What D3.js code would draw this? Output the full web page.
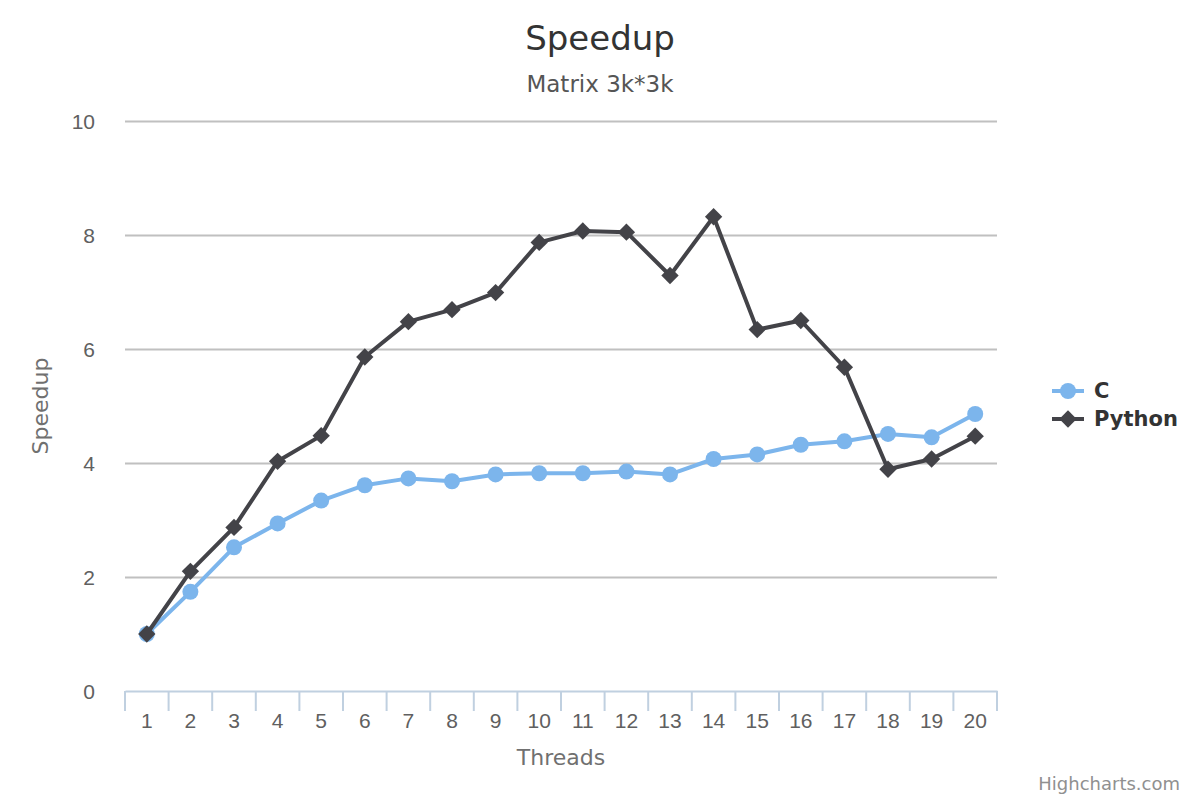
<!DOCTYPE html>
<html>
<head>
<meta charset="utf-8">
<script src="https://cdnjs.cloudflare.com/ajax/libs/d3/7.8.5/d3.min.js"></script>
<style>
  body { margin: 0; background: #fff; }
  svg { font-family: "DejaVu Sans", "Lucida Grande", Arial, sans-serif; }
</style>
</head>
<body>
<div id="chart"></div>
<script>
// Data
var threads = [1, 2, 3, 4, 5, 6, 7, 8, 9, 10, 11, 12, 13, 14, 15, 16, 17, 18, 19, 20];
var cSpeedup = [1.0, 1.74, 2.52, 2.94, 3.34, 3.61, 3.73, 3.68, 3.80, 3.82, 3.82, 3.85, 3.80, 4.07, 4.15, 4.32, 4.38, 4.51, 4.45, 4.86];
var pySpeedup = [1.0, 2.10, 2.87, 4.03, 4.48, 5.86, 6.48, 6.69, 6.99, 7.87, 8.07, 8.05, 7.29, 8.32, 6.34, 6.50, 5.68, 3.89, 4.07, 4.47];
var yTicks = [0, 2, 4, 6, 8, 10];

var seriesList = [
    { name: "C", values: cSpeedup, color: "#7cb5ec", marker: "circle" },
    { name: "Python", values: pySpeedup, color: "#434348", marker: "diamond" }
];

// Layout
var W = 1200, H = 800;
var margin = { top: 121, right: 203, bottom: 109, left: 125 };
var width = W - margin.left - margin.right;
var height = H - margin.top - margin.bottom;

var svg = d3.select("#chart").append("svg")
    .attr("width", W)
    .attr("height", H);

// Titles
svg.append("text")
    .attr("x", 600).attr("y", 50)
    .attr("text-anchor", "middle")
    .attr("font-size", "34px")
    .attr("fill", "#333333")
    .text("Speedup");

svg.append("text")
    .attr("x", 600).attr("y", 92)
    .attr("text-anchor", "middle")
    .attr("font-size", "23px")
    .attr("fill", "#555555")
    .text("Matrix 3k*3k");

var g = svg.append("g")
    .attr("transform", "translate(" + margin.left + "," + margin.top + ")");

// Scales
var x = d3.scaleBand()
    .domain(threads)
    .range([0, width])
    .padding(0);

var y = d3.scaleLinear()
    .domain([0, 10])
    .range([height, 0]);

function cx(d) { return x(d) + x.bandwidth() / 2; }

// Gridlines + y labels
var yAxis = g.append("g")
    .attr("class", "y axis")
    .call(d3.axisLeft(y).tickValues(yTicks).tickSize(-width).tickPadding(30));

yAxis.select(".domain").remove();
yAxis.selectAll(".tick line")
    .attr("stroke", "#c0c0c0")
    .attr("stroke-width", 2)
    .attr("opacity", function (d) { return d === 0 ? 0 : 1; });
yAxis.selectAll(".tick text")
    .attr("fill", "#606060")
    .attr("font-size", "21px")
    .attr("dy", "0.35em");

// X axis
var xAxis = g.append("g")
    .attr("class", "x axis")
    .attr("transform", "translate(0," + height + ")")
    .call(d3.axisBottom(x).tickSize(0).tickPadding(22));

xAxis.select(".domain")
    .attr("stroke", "#c0d0e0")
    .attr("stroke-width", 2);
xAxis.selectAll(".tick text")
    .attr("fill", "#606060")
    .attr("font-size", "21px");

// tick marks between categories
var tickPos = threads.map(function (d) { return x(d); }).concat([width]);
xAxis.selectAll(".bound")
    .data(tickPos)
    .enter().append("line")
    .attr("class", "bound")
    .attr("x1", function (d) { return d; })
    .attr("x2", function (d) { return d; })
    .attr("y1", 0)
    .attr("y2", 20)
    .attr("stroke", "#c0d0e0")
    .attr("stroke-width", 2);

// Axis titles
svg.append("text")
    .attr("x", margin.left + width / 2)
    .attr("y", 765)
    .attr("text-anchor", "middle")
    .attr("font-size", "22px")
    .attr("fill", "#707070")
    .text("Threads");

svg.append("text")
    .attr("transform", "translate(48," + (margin.top + height / 2) + ") rotate(-90)")
    .attr("text-anchor", "middle")
    .attr("font-size", "22px")
    .attr("fill", "#707070")
    .text("Speedup");

// Lines and markers
var line = d3.line()
    .x(function (d, i) { return cx(threads[i]); })
    .y(function (d) { return y(d); });

var diamond = d3.symbol().type(d3.symbolSquare).size(150);

function drawMarker(sel, s) {
    if (s.marker === "circle") {
        sel.append("circle")
            .attr("r", 8)
            .attr("fill", s.color);
    } else {
        sel.append("path")
            .attr("d", diamond)
            .attr("transform", "rotate(45)")
            .attr("fill", s.color);
    }
}

seriesList.forEach(function (s) {
    var sg = g.append("g").attr("class", "series");
    sg.append("path")
        .datum(s.values)
        .attr("fill", "none")
        .attr("stroke", s.color)
        .attr("stroke-width", 4)
        .attr("stroke-linejoin", "round")
        .attr("d", line);

    sg.selectAll(".pt")
        .data(s.values)
        .enter().append("g")
        .attr("class", "pt")
        .attr("transform", function (d, i) {
            return "translate(" + cx(threads[i]) + "," + y(d) + ")";
        })
        .each(function () { drawMarker(d3.select(this), s); });
});

// Legend
var legend = svg.append("g")
    .attr("transform", "translate(1052,391)");

seriesList.forEach(function (s, i) {
    var row = legend.append("g")
        .attr("transform", "translate(0," + i * 28 + ")");
    row.append("line")
        .attr("x1", 0).attr("x2", 32)
        .attr("stroke", s.color)
        .attr("stroke-width", 4);
    var m = row.append("g").attr("transform", "translate(16,0)");
    drawMarker(m, s);
    row.append("text")
        .attr("x", 42)
        .attr("y", 0)
        .attr("dy", "0.35em")
        .attr("font-size", "21px")
        .attr("font-weight", "bold")
        .attr("fill", "#333333")
        .text(s.name);
});

// Credit
svg.append("text")
    .attr("x", 1180)
    .attr("y", 790)
    .attr("text-anchor", "end")
    .attr("font-size", "18px")
    .attr("fill", "#909090")
    .text("Highcharts.com");
</script>
</body>
</html>
